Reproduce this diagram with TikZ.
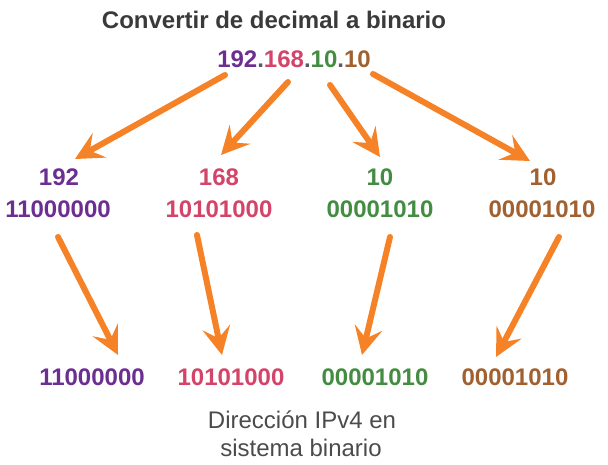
\documentclass[tikz,border=0pt]{standalone}
\usepackage{fontspec}
\setmainfont{Liberation Sans}
\usetikzlibrary{arrows.meta}
\definecolor{cpurple}{RGB}{108,46,145}
\definecolor{cpink}{RGB}{212,68,105}
\definecolor{cgreen}{RGB}{68,140,66}
\definecolor{cbrown}{RGB}{160,96,48}
\definecolor{corange}{RGB}{245,130,38}
\definecolor{ctitle}{RGB}{58,58,58}
\definecolor{cdot}{RGB}{90,90,100}
\definecolor{ccap}{RGB}{75,75,75}
\begin{document}
\begin{tikzpicture}[x=1pt,y=-1pt,
  lbl/.style={font=\fontsize{24}{28}\selectfont\bfseries, inner sep=0pt},
  captxt/.style={font=\fontsize{24}{28}\selectfont, text=ccap, inner sep=0pt, anchor=base},
  arr/.style={line width=6pt, draw=corange, line cap=round,
    -{Stealth[length=28pt,width=28pt,inset=11pt]}}]
\useasboundingbox (0,0) rectangle (608,464);

% title and address
\node[lbl, text=ctitle] (title) at (274,20) {Convertir de decimal a binario};
\node[lbl] (ip) at (294,59) {\textcolor{cpurple}{192}\textcolor{cdot}{.}\textcolor{cpink}{168}\textcolor{cdot}{.}\textcolor{cgreen}{10}\textcolor{cdot}{.}\textcolor{cbrown}{10}};

% decimal octets
\node[lbl, text=cpurple] (d1) at (59,177) {192};
\node[lbl, text=cpink]   (d2) at (219,177) {168};
\node[lbl, text=cgreen]  (d3) at (380,177) {10};
\node[lbl, text=cbrown]  (d4) at (543,177) {10};

% binary octets
\node[lbl, text=cpurple] (b1) at (58,209) {11000000};
\node[lbl, text=cpink]   (b2) at (219,209) {10101000};
\node[lbl, text=cgreen]  (b3) at (380,209) {00001010};
\node[lbl, text=cbrown]  (b4) at (542,209) {00001010};

% final binary address
\node[lbl, text=cpurple] (f1) at (92,377) {11000000};
\node[lbl, text=cpink]   (f2) at (231,377) {10101000};
\node[lbl, text=cgreen]  (f3) at (375,377) {00001010};
\node[lbl, text=cbrown]  (f4) at (515,377) {00001010};

\node[captxt] (cap1) at (302,428) {Dirección IPv4 en};
\node[captxt] (cap2) at (301,456) {sistema binario};

% arrow ends
\coordinate (s1) at (225,75);  \coordinate (e1) at (75,159);
\coordinate (s2) at (288,82);  \coordinate (e2) at (221,155);
\coordinate (s3) at (330,85);  \coordinate (e3) at (380,157);
\coordinate (s4) at (373,74);  \coordinate (e4) at (530,161);
\coordinate (u1) at (58,237);  \coordinate (v1) at (118,355);
\coordinate (u2) at (197,235); \coordinate (v2) at (222,355);
\coordinate (u3) at (390,237); \coordinate (v3) at (362,355);
\coordinate (u4) at (559,237); \coordinate (v4) at (496,357);

\foreach \i in {1,2,3,4} {
  \draw[arr] (s\i) -- (e\i);
  \draw[arr] (u\i) -- (v\i);
}
\end{tikzpicture}
\end{document}
